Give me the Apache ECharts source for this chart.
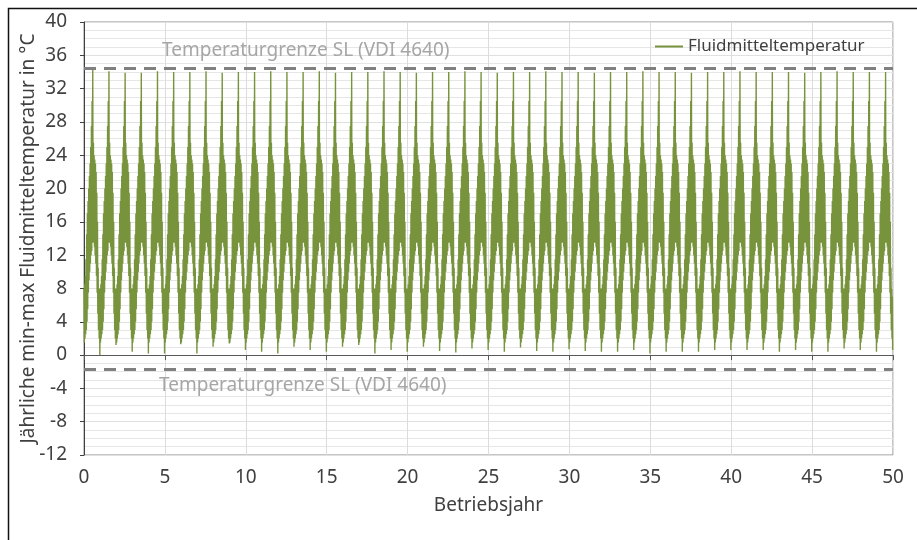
<!DOCTYPE html>
<html>
<head>
<meta charset="utf-8">
<script src="https://cdn.jsdelivr.net/npm/echarts@6/dist/echarts.min.js"></script>
<style>
html, body { margin: 0; padding: 0; background: #fff; }
#fluidChart { width: 917px; height: 540px; }
</style>
</head>
<body>
<div id="fluidChart"></div>
<script>
// Ein Betriebsjahr in 24 Abschnitten: obere / untere Huellkurve (°C)
const profilHoch = [8.0, 8.5, 9.5, 11.5, 14.5, 17.0, 18.5, 20.0, 21.5, 23.0, 25.0, 27.5,
  30.5, 34.0, 25.5, 24.0, 23.5, 23.0, 22.0, 19.5, 16.0, 10.5, 8.0, 7.0];
const profilTief = [1.5, 2.0, 2.5, 3.0, 4.0, 5.5, 7.5, 9.0, 10.0, 11.0, 12.0, 12.5,
  13.5, 14.5, 13.5, 13.0, 12.0, 11.0, 9.5, 7.5, 5.0, 3.0, 2.0, 0.5];
const spitzenIndex = 13;
const tiefIndex = 23;

const jahresMax = [34.3, 34.1, 33.9, 33.9, 34.1, 34.0, 34.0, 34.1, 33.9, 34.0,
  34.0, 34.1, 34.0, 34.0, 34.1, 33.9, 34.0, 34.0, 34.1, 34.0,
  33.9, 34.0, 34.0, 34.1, 34.0, 33.9, 34.0, 34.0, 34.1, 34.0,
  34.0, 33.9, 34.0, 34.0, 34.1, 34.0, 34.0, 33.9, 34.0, 34.0,
  34.1, 34.0, 34.0, 34.0, 33.9, 34.0, 34.1, 34.0, 34.0, 34.0];
const jahresMin = [0.0, 1.2, 0.4, 0.2, 0.2, 1.3, 0.2, 1.0, 1.4, 0.6,
  0.4, 0.2, 1.0, 0.6, 0.4, 1.0, 1.2, 0.2, 0.6, 0.4,
  1.0, 0.5, 0.3, 0.8, 0.6, 0.4, 0.9, 0.5, 0.4, 0.7,
  0.5, 0.4, 0.4, 0.6, 0.2, 0.4, 0.4, 0.4, 0.6, 0.6,
  0.6, 0.6, 0.4, 0.6, 0.4, 0.4, 0.8, 0.6, 0.4, 0.6];

const grenzeOben = 34.5;
const grenzeUnten = -1.7;
const betriebsjahre = 50;

let werte = [];
for (let j = 0; j < betriebsjahre; j++) {
  const n = profilHoch.length;
  for (let k = 0; k < n; k++) {
    let t = j + k / n;
    let hoch = k === spitzenIndex ? jahresMax[j] : profilHoch[k];
    let tief = k === tiefIndex ? jahresMin[j] : profilTief[k];
    werte.push([t, hoch]);
    werte.push([t + 0.5 / n, tief]);
  }
}
werte.push([betriebsjahre, jahresMin[betriebsjahre - 1]]);

const textFarbe = "#404040";
const schrift = "Noto Sans";

let myChart = echarts.init(document.getElementById("fluidChart"));
myChart.setOption({
  animation: false,
  textStyle: { fontFamily: schrift },
  graphic: [
    {
      type: "rect",
      left: 6, top: 6,
      shape: { width: 1000, height: 1000 },
      style: { fill: "none", stroke: "#111", lineWidth: 1.5 }
    }
  ],
  legend: {
    data: ["Fluidmitteltemperatur"],
    left: 650, top: 33,
    icon: "rect",
    itemWidth: 28, itemHeight: 2, itemGap: 3,
    textStyle: { color: textFarbe, fontSize: 17, fontFamily: schrift }
  },
  grid: {
    left: 84, right: 24, top: 22, bottom: 85,
    show: true, borderColor: "#8c8c8c", borderWidth: 1
  },
  xAxis: {
    type: "value",
    min: 0, max: 50, interval: 5,
    name: "Betriebsjahr",
    nameLocation: "middle",
    nameGap: 41,
    nameMoveOverlap: false,
    nameTextStyle: { color: textFarbe, fontSize: 19 },
    axisLine: { lineStyle: { color: "#595959", width: 1 } },
    axisTick: { show: true, length: 5, lineStyle: { color: "#595959" } },
    axisLabel: { color: textFarbe, fontSize: 19, margin: 13 },
    splitLine: { show: true, lineStyle: { color: "#dcdcdc" } }
  },
  yAxis: {
    type: "value",
    min: -12, max: 40, interval: 4,
    name: "Jährliche min-max Fluidmitteltemperatur in °C",
    nameLocation: "middle",
    nameGap: 46,
    nameMoveOverlap: false,
    nameTextStyle: { color: textFarbe, fontSize: 19 },
    axisLine: { show: true, lineStyle: { color: "#404040", width: 1 } },
    axisTick: { show: true, length: 4, lineStyle: { color: "#404040" } },
    axisLabel: { color: textFarbe, fontSize: 19, margin: 17 },
    splitLine: { show: true, lineStyle: { color: "#e0e0e0" } },
    minorTick: { show: false, splitNumber: 4 },
    minorSplitLine: { show: true, lineStyle: { color: "#e6e6e6" } }
  },
  series: [
    {
      name: "Fluidmitteltemperatur",
      type: "line",
      data: werte,
      symbol: "none",
      sampling: null,
      lineStyle: { color: "#77933C", width: 1.4 },
      itemStyle: { color: "#77933C" },
      z: 3,
      markLine: {
        silent: true,
        symbol: "none",
        lineStyle: { color: "#808080", type: [12, 8], width: 3 },
        data: [
          {
            yAxis: grenzeOben,
            label: { show: true, position: "insideStartTop", distance: [78, 8],
              formatter: "Temperaturgrenze SL (VDI 4640)", color: "#a6a6a6", fontSize: 19, fontFamily: schrift }
          },
          {
            yAxis: grenzeUnten,
            label: { show: true, position: "insideStartBottom", distance: [75, 7],
              formatter: "Temperaturgrenze SL (VDI 4640)", color: "#a6a6a6", fontSize: 19, fontFamily: schrift }
          }
        ]
      }
    }
  ]
});
</script>
</body>
</html>
